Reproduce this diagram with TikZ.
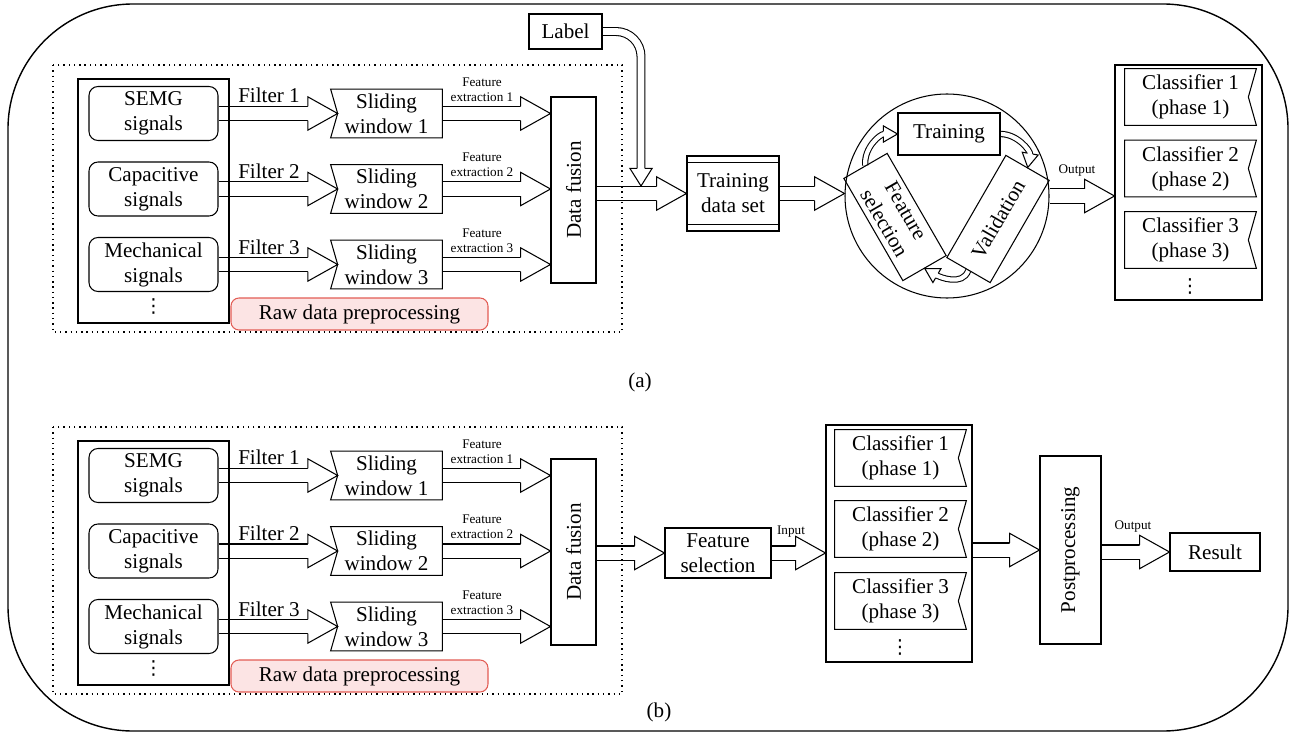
\documentclass[tikz,border=0pt]{standalone}
\usepackage{fontspec}
\setmainfont{Liberation Serif}
\newfontfamily\dvsans{DejaVu Sans}
\usetikzlibrary{calc,fit,decorations.markings}
\pgfdeclarelayer{bg}
\pgfsetlayers{bg,main}
\newcommand{\mainsz}{\fontsize{12pt}{14.2pt}\selectfont}
\newcommand{\smallsz}{\fontsize{7.5pt}{8.5pt}\selectfont}
\definecolor{rawfill}{RGB}{252,228,228}
\definecolor{rawdraw}{RGB}{226,92,84}
\begin{document}
\begin{tikzpicture}[x=0.02cm,y=0.02cm,
  box/.style={draw, line width=0.6pt, align=center, inner sep=0pt, font=\mainsz},
  sz/.style 2 args={minimum width=#1*0.02cm, minimum height=#2*0.02cm},
  sig/.style={box, rounded corners=0.18cm, sz={129}{54}},
  swin/.style={align=center, inner sep=0pt, font=\mainsz, sz={111}{48}},
  cls/.style={align=center, inner sep=0pt, font=\mainsz, sz={131}{56}},
  lbl/.style={font=\smallsz, align=center, inner sep=0pt},
  flt/.style={font=\mainsz, inner sep=0pt},
  vd/.style={font=\dvsans\fontsize{11pt}{12pt}\selectfont, inner sep=0pt},
  frame/.style={draw, line width=0.6pt, inner sep=0pt},
  dotframe/.style={draw, line width=0.8pt, dash pattern=on 0.8pt off 2.2pt},
  outline/.style={line width=0.6pt},
  blk/.style={line width=0.6pt, draw=black, double=white, double distance=7.4pt, shorten >=16pt,
    postaction={decorate, decoration={markings, mark=at position 1 with {\filldraw[fill=white, draw=black, line width=0.6pt, shorten >=0pt, shorten <=0pt, sharp corners] (-17pt,4pt) -- (-17pt,9.5pt) -- (0pt,0pt) -- (-17pt,-9.5pt) -- (-17pt,-4pt);}}}},
  lblarr/.style={line width=0.6pt, draw=black, double=white, double distance=3.9pt, shorten >=9.5pt,
    postaction={decorate, decoration={markings, mark=at position 1 with {\filldraw[fill=white, draw=black, line width=0.6pt, shorten >=0pt, shorten <=0pt, sharp corners] (-10pt,2.25pt) -- (-10pt,6.3pt) -- (0pt,0pt) -- (-10pt,-6.3pt) -- (-10pt,-2.25pt);}}}},
  cycarr/.style={line width=0.6pt, draw=black, double=white, double distance=2.4pt, shorten >=7.5pt,
    postaction={decorate, decoration={markings, mark=at position 1 with {\filldraw[fill=white, draw=black, line width=0.6pt, shorten >=0pt, shorten <=0pt, sharp corners] (-8pt,1.5pt) -- (-8pt,4.6pt) -- (0pt,0pt) -- (-8pt,-4.6pt) -- (-8pt,-1.5pt);}}}}
]
\useasboundingbox (0,0) rectangle (1290,-733);

% outer frame
\draw[line width=0.8pt, rounded corners=2.5cm] (8,-4) rectangle (1288,-731);

% ================= (a) =================
\draw[dotframe] (53,-65) rectangle (622,-332);
\node[frame, fit={(78,-79) (229,-323)}] (sigA) {};
\node[sig] (semgA) at (153.5,-113.5) {SEMG\\signals};
\node[sig] (capA) at (153.5,-189) {Capacitive\\signals};
\node[sig] (mechA) at (153.5,-264.5) {Mechanical\\signals};
\node[vd] (dotsA) at (153.5,-306) {⋮};

\node[swin] (swA1) at (386.5,-113.5) {Sliding\\window 1};
\node[swin] (swA2) at (386.5,-189) {Sliding\\window 2};
\node[swin] (swA3) at (386.5,-264.5) {Sliding\\window 3};

\node[box, rotate=90, sz={186}{45}] (dfA) at (573.5,-190) {Data fusion};
\node[box, draw=rawdraw, fill=rawfill, rounded corners=0.16cm, sz={257}{32}] (rawA) at (359.5,-314) {Raw data preprocessing};

\node[flt] (f1A) at (269,-95) {Filter 1};
\node[flt] (f2A) at (269,-171) {Filter 2};
\node[flt] (f3A) at (269,-247) {Filter 3};
\node[lbl] (fe1A) at (482,-90) {Feature\\extraction 1};
\node[lbl] (fe2A) at (482,-165) {Feature\\extraction 2};
\node[lbl] (fe3A) at (482,-241) {Feature\\extraction 3};

\node[box, sz={73}{35}] (labA) at (565.5,-31.5) {Label};
\node[box, sz={92}{75}] (tdsA) at (733,-193.5) {Training\\data set};
\draw[outline] ($(tdsA.north west)+(0,-7)$) -- ($(tdsA.north east)+(0,-7)$);
\draw[outline] ($(tdsA.south west)+(0,7)$) -- ($(tdsA.south east)+(0,7)$);

\node[draw, line width=0.6pt, circle, minimum size=204*0.02cm, inner sep=0pt] (cirA) at (947,-196) {};
\node[box, sz={102}{42}] (trA) at (949,-134) {Training};
\node[box, rotate=-60, sz={118}{50}] (fsA) at (895,-217) {Feature\\selection};
\node[box, rotate=60, sz={118}{50}] (valA) at (998,-219) {Validation};

\node[frame, fit={(1115,-65) (1262,-300)}] (clsA) {};
\node[cls] (ca1) at (1190.5,-97) {Classifier 1\\(phase 1)};
\node[cls] (ca2) at (1190.5,-168.5) {Classifier 2\\(phase 2)};
\node[cls] (ca3) at (1190.5,-240) {Classifier 3\\(phase 3)};
\node[vd] (dotsCA) at (1190,-286) {⋮};
\node[lbl] (outA) at (1077,-171) {Output};

\node[font=\mainsz] (capa) at (640,-382) {(a)};

% ================= (b) =================
\draw[dotframe] (53,-427) rectangle (622,-694);
\node[frame, fit={(78,-441) (229,-685)}] (sigB) {};
\node[sig] (semgB) at (153.5,-475.5) {SEMG\\signals};
\node[sig] (capB) at (153.5,-551) {Capacitive\\signals};
\node[sig] (mechB) at (153.5,-626.5) {Mechanical\\signals};
\node[vd] (dotsB) at (153.5,-668) {⋮};

\node[swin] (swB1) at (386.5,-475.5) {Sliding\\window 1};
\node[swin] (swB2) at (386.5,-551) {Sliding\\window 2};
\node[swin] (swB3) at (386.5,-626.5) {Sliding\\window 3};

\node[box, rotate=90, sz={186}{45}] (dfB) at (573.5,-552) {Data fusion};
\node[box, draw=rawdraw, fill=rawfill, rounded corners=0.16cm, sz={257}{32}] (rawB) at (359.5,-676) {Raw data preprocessing};

\node[flt] (f1B) at (269,-457) {Filter 1};
\node[flt] (f2B) at (269,-533) {Filter 2};
\node[flt] (f3B) at (269,-609) {Filter 3};
\node[lbl] (fe1B) at (482,-452) {Feature\\extraction 1};
\node[lbl] (fe2B) at (482,-527) {Feature\\extraction 2};
\node[lbl] (fe3B) at (482,-603) {Feature\\extraction 3};

\node[box, sz={106}{50}] (fsB) at (718,-553) {Feature\\selection};
\node[lbl] (inB) at (791,-532) {Input};

\node[frame, fit={(826,-425) (972,-662)}] (clsB) {};
\node[cls] (cb1) at (900.5,-458) {Classifier 1\\(phase 1)};
\node[cls] (cb2) at (900.5,-529) {Classifier 2\\(phase 2)};
\node[cls] (cb3) at (900.5,-601) {Classifier 3\\(phase 3)};
\node[vd] (dotsCB) at (900,-647) {⋮};

\node[box, rotate=90, sz={188}{61}] (ppB) at (1070.5,-550) {Postprocessing};
\node[box, sz={90}{38}] (resB) at (1215,-552) {Result};
\node[lbl] (outB) at (1133,-527) {Output};

\node[font=\mainsz] (capb) at (659,-712) {(b)};

% notched outlines
\foreach \n in {swA1,swA2,swA3,swB1,swB2,swB3}{
  \draw[outline] (\n.north west) -- (\n.north east) -- (\n.south east) -- (\n.south west) -- ($(\n.west)+(7,0)$) -- cycle;
}
\foreach \n in {ca1,ca2,ca3,cb1,cb2,cb3}{
  \draw[outline] (\n.north west) -- (\n.north east) -- ($(\n.east)+(-8,0)$) -- (\n.south east) -- (\n.south west) -- cycle;
}

\coordinate (lt) at (641,-186);

% ================= connectors =================
% for the rotate=90 boxes, .north is the left side and .south the right side
\begin{pgfonlayer}{bg}
\draw[blk] (semgA.east) -- ($(swA1.west)+(7,0)$);
\draw[blk] (capA.east) -- ($(swA2.west)+(7,0)$);
\draw[blk] (mechA.east) -- ($(swA3.west)+(7,0)$);
\draw[blk] (swA1.east) -- (swA1.east -| dfA.north);
\draw[blk] (swA2.east) -- (swA2.east -| dfA.north);
\draw[blk] (swA3.east) -- (swA3.east -| dfA.north);
\draw[blk] (tdsA.west -| dfA.south) -- (tdsA.west);
\draw[lblarr, rounded corners=0.5cm] (labA.east) -| (lt);
\draw[blk] (tdsA.east) -- (tdsA.east -| cirA.west);
\draw[blk] (cirA.east) -- (cirA.east -| clsA.west);
\draw[cycarr] (fsA.west) to[out=95,in=180] (trA.west);
\draw[cycarr] (trA.east) to[out=0,in=80] (valA.east);
\draw[cycarr] (valA.west) to[out=250,in=-30] (fsA.east);

\draw[blk] (semgB.east) -- ($(swB1.west)+(7,0)$);
\draw[blk] (capB.east) -- ($(swB2.west)+(7,0)$);
\draw[blk] (mechB.east) -- ($(swB3.west)+(7,0)$);
\draw[blk] (swB1.east) -- (swB1.east -| dfB.north);
\draw[blk] (swB2.east) -- (swB2.east -| dfB.north);
\draw[blk] (swB3.east) -- (swB3.east -| dfB.north);
\draw[blk] (fsB.west -| dfB.south) -- (fsB.west);
\draw[blk] (fsB.east) -- (fsB.east -| clsB.west);
\draw[blk] (clsB.east |- ppB.center) -- (ppB.north |- ppB.center);
\draw[blk] (resB.west -| ppB.south) -- (resB.west);
\end{pgfonlayer}
\end{tikzpicture}
\end{document}
